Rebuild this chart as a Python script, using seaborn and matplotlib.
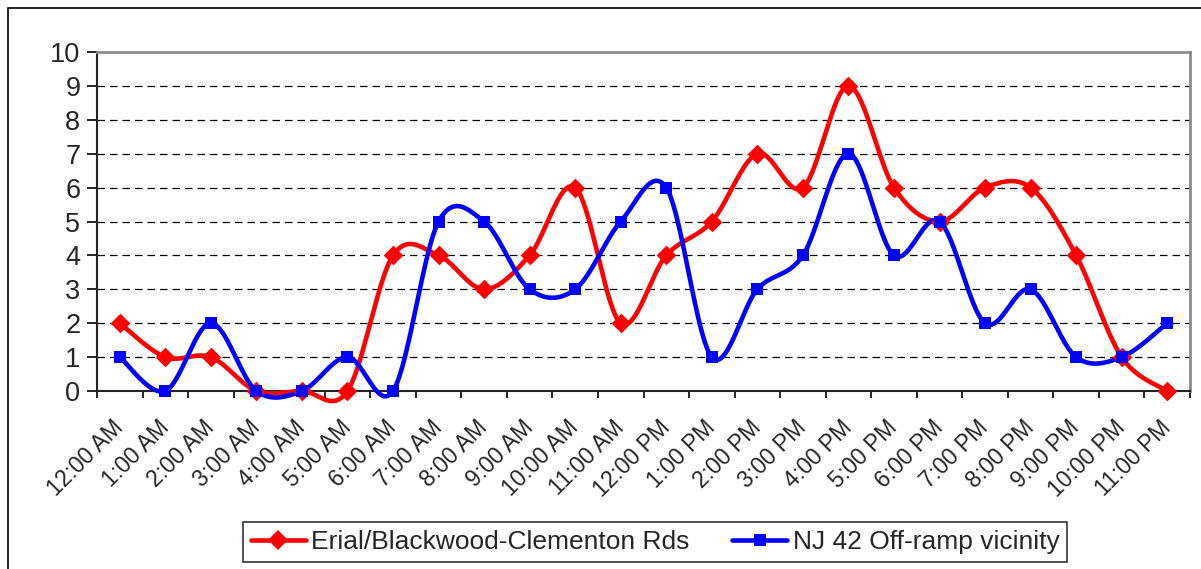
import numpy as np
import pandas as pd
import matplotlib
matplotlib.use("Agg")
import matplotlib.pyplot as plt
from matplotlib.lines import Line2D
from matplotlib.patches import Rectangle
import seaborn as sns

hours = ["12:00 AM", "1:00 AM", "2:00 AM", "3:00 AM", "4:00 AM", "5:00 AM",
         "6:00 AM", "7:00 AM", "8:00 AM", "9:00 AM", "10:00 AM", "11:00 AM",
         "12:00 PM", "1:00 PM", "2:00 PM", "3:00 PM", "4:00 PM", "5:00 PM",
         "6:00 PM", "7:00 PM", "8:00 PM", "9:00 PM", "10:00 PM", "11:00 PM"]
erial = [2, 1, 1, 0, 0, 0, 4, 4, 3, 4, 6, 2, 4, 5, 7, 6, 9, 6, 5, 6, 6, 4, 1, 0]
nj42 = [1, 0, 2, 0, 0, 1, 0, 5, 5, 3, 3, 5, 6, 1, 3, 4, 7, 4, 5, 2, 3, 1, 1, 2]
series_names = ["Erial/Blackwood-Clementon Rds", "NJ 42 Off-ramp vicinity"]
y_ticks = list(range(0, 11))


def smooth_curve(values, steps=40):
    """Bezier smoothing through every point (Catmull-Rom style, tension 1/6)."""
    x = np.arange(len(values), dtype=float)
    y = np.asarray(values, dtype=float)
    pts = np.column_stack([x, y])
    padded = np.vstack([pts[0], pts, pts[-1]])
    t = np.linspace(0, 1, steps)[:, None]
    out = []
    for i in range(len(pts) - 1):
        p0, p1, p2, p3 = padded[i], padded[i + 1], padded[i + 2], padded[i + 3]
        c1 = p1 + (p2 - p0) / 6.0
        c2 = p2 - (p3 - p1) / 6.0
        seg = ((1 - t) ** 3) * p1 + 3 * ((1 - t) ** 2) * t * c1 \
            + 3 * (1 - t) * t ** 2 * c2 + t ** 3 * p2
        out.append(seg if i == 0 else seg[1:])
    seg = np.vstack(out)
    return seg[:, 0], seg[:, 1]


sns.set_theme(style="white")
plt.rcParams["font.family"] = ["Liberation Sans", "DejaVu Sans"]

fig = plt.figure(figsize=(12.01, 5.69), dpi=100)
ax = fig.add_axes([97 / 1201, 1 - 391 / 569, (1190 - 97) / 1201, (391 - 52) / 569])

# outer chart-area border
fig.patches.append(Rectangle((8 / 1201, -0.01), 1.1, 1 - 8 / 569 + 0.01,
                             transform=fig.transFigure, fill=False,
                             edgecolor="black", linewidth=1.2, zorder=0))

styles = [("#ff0000", "D", 10), ("#0000ff", "s", 9)]
for vals, name, (color, marker, ms) in zip([erial, nj42], series_names, styles):
    sx, sy = smooth_curve(vals)
    curve = pd.DataFrame({"x": sx, "y": sy})
    sns.lineplot(data=curve, x="x", y="y", sort=False, estimator=None,
                 color=color, linewidth=3.3, ax=ax, zorder=3, clip_on=False)
    pts = pd.DataFrame({"x": np.arange(len(vals)), "y": vals})
    sns.scatterplot(data=pts, x="x", y="y", marker=marker, s=ms ** 2,
                    color=color, edgecolor=color, linewidth=0, ax=ax, zorder=4,
                    clip_on=False)

ax.set_xlim(-0.5, len(hours) - 0.5)
ax.set_ylim(0, 10)
ax.set_xlabel("")
ax.set_ylabel("")

ax.set_xticks(np.arange(len(hours)))
ax.set_xticklabels(hours, rotation=45, ha="right", va="center",
                   rotation_mode="anchor", fontsize=16.5)
ax.set_xticks(np.arange(len(hours) + 1) - 0.5, minor=True)
ax.tick_params(axis="x", which="major", length=0, pad=24)
ax.tick_params(axis="x", which="minor", length=5, width=1.2, color="black",
               direction="out", bottom=True)

ax.set_yticks(y_ticks)
ax.set_yticklabels([str(v) for v in y_ticks], fontsize=19.5)
ax.tick_params(axis="y", length=7, width=1.2, color="black", direction="out",
               left=True, pad=5)

for v in y_ticks[1:-1]:
    ax.axhline(v, color="black", linestyle=(0, (6, 4)), linewidth=0.9, zorder=1)

for side in ["left", "bottom"]:
    ax.spines[side].set_color("#222222")
    ax.spines[side].set_linewidth(1.5)
for side in ["top", "right"]:
    ax.spines[side].set_color("#8c8c8c")
    ax.spines[side].set_linewidth(2)
    ax.spines[side].set_visible(True)

handles = [Line2D([0], [0], color=c, linewidth=3.3, marker=m, markersize=ms,
                  markeredgewidth=0)
           for c, m, ms in styles]
leg = fig.legend(handles, series_names, loc="center",
                 bbox_to_anchor=(655 / 1201, 1 - 542 / 569), ncol=2,
                 fontsize=19, frameon=True, fancybox=False, edgecolor="black",
                 handlelength=2.1, handletextpad=0.2, columnspacing=1.6,
                 borderpad=0.3)
leg.get_frame().set_linewidth(1.2)

fig.savefig("out.png", dpi=100, facecolor="white")
